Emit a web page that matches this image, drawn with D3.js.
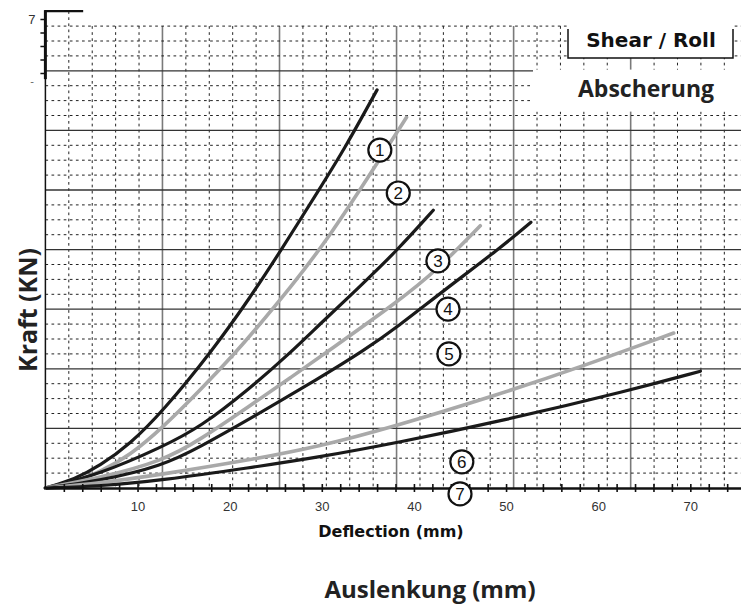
<!DOCTYPE html>
<html lang="en">
<head>
<meta charset="UTF-8">
<title>Shear / Roll</title>
<script src="https://d3js.org/d3.v7.min.js"></script>
<style>
    body { margin: 0; background: #fff; }
    svg { display: block; }
</style>
</head>
<body>
<div id="chart"></div>
<script>
// deflection (mm) and force (kN), one pair of arrays per curve
const c1x = [0, 3.2, 5.9, 9.2, 12.7, 18.2, 22.2, 25.5, 29.8, 32.5, 36.0];
const c1y = [0, 0.15, 0.37, 0.74, 1.28, 2.32, 3.19, 3.97, 5.03, 5.7, 6.68];
const c2x = [0, 3.2, 5.9, 9.2, 12.7, 16.8, 20.9, 22.2, 26.6, 30.9, 35.9, 39.2];
const c2y = [0, 0.10, 0.27, 0.55, 1.01, 1.64, 2.32, 2.55, 3.36, 4.23, 5.42, 6.22];
const c3x = [0, 5.9, 12.7, 16.8, 22.2, 26.6, 29.8, 34.2, 38.2, 42.1];
const c3y = [0, 0.23, 0.69, 1.02, 1.67, 2.27, 2.75, 3.39, 3.99, 4.66];
const c4x = [0, 5.9, 12.7, 16.8, 22.2, 26.6, 30.9, 38.2, 42.6, 47.2];
const c4y = [0, 0.17, 0.45, 0.81, 1.38, 1.85, 2.32, 3.12, 3.67, 4.4];
const c5x = [0, 5.9, 12.7, 16.8, 22.2, 29.8, 34.5, 38.2, 43.2, 49.4, 52.7];
const c5y = [0, 0.12, 0.37, 0.69, 1.16, 1.85, 2.3, 2.7, 3.31, 4.03, 4.46];
const c6x = [0, 5.9, 12.7, 22.2, 29.8, 37.4, 49.4, 57.7, 68.2];
const c6y = [0, 0.08, 0.23, 0.47, 0.70, 1.01, 1.58, 2.01, 2.6];
const c7x = [0, 5.9, 12.7, 22.2, 29.8, 38.2, 49.4, 63.5, 71.1];
const c7y = [0, 0.03, 0.13, 0.34, 0.52, 0.76, 1.12, 1.64, 1.96];
const curveColors = ["#1a1a1a", "#a9a9a9", "#1a1a1a", "#a9a9a9", "#1a1a1a", "#a9a9a9", "#1a1a1a"];

// circled curve numbers
const markNames = ["1", "2", "3", "4", "5", "6", "7"];
const markX = [36.3, 38.3, 42.6, 43.7, 43.8, 45.2, 45.0];
const markY = [5.67, 4.95, 3.81, 3.0, 2.25, 0.44, -0.1];

const xTicks = [0, 10, 20, 30, 40, 50, 60, 70];

const W = 741, H = 606;
const svg = d3.select("#chart").append("svg")
    .attr("width", W)
    .attr("height", H)
    .style("font-family", "'Liberation Sans', Arial, sans-serif");

const x = d3.scaleLinear().domain([0, 75.5]).range([45.4, 741]);
const y = d3.scaleLinear().domain([0, 7.75]).range([488, 26.1]);
// old left axis fragment at the top
const yOld = d3.scaleLinear().domain([6, 7]).range([86.5, 19]);

const gridStep = 2.541;        // mm between dotted verticals
const panelLeft = 533;
const dots = "2.7,3.4";

// grid
const grid = svg.append("g");
d3.range(1, 30).forEach(k => {
    const gxv = x(k * gridStep);
    const solid = k % 5 === 0;
    grid.append("line")
        .attr("x1", gxv).attr("x2", gxv)
        .attr("y1", k === 1 ? y(8) : y(7.75)).attr("y2", y(0))
        .attr("stroke", solid ? "#7a7a7a" : "#222")
        .attr("stroke-width", solid ? 1.6 : 1)
        .attr("stroke-dasharray", solid ? null : dots);
});
d3.range(1, 32).forEach(j => {
    const v = j * 0.25;
    const solid = j % 4 === 0;
    grid.append("line")
        .attr("x1", x(0)).attr("x2", v === 7 ? panelLeft : W)
        .attr("y1", y(v)).attr("y2", y(v))
        .attr("stroke", solid ? "#333" : "#222")
        .attr("stroke-width", solid ? 1.3 : 1)
        .attr("stroke-dasharray", solid ? null : dots);
});

// white panels top right
svg.append("rect")
    .attr("x", panelLeft).attr("y", y(7.02))
    .attr("width", W - panelLeft).attr("height", 42)
    .attr("fill", "#fff");
svg.append("text")
    .attr("x", 646).attr("y", 97)
    .attr("text-anchor", "middle")
    .style("font-family", "'Open Sans', sans-serif")
    .style("font-weight", "bold")
    .style("font-size", "23px")
    .attr("fill", "#222")
    .text("Abscherung");

svg.append("rect")
    .attr("x", 568).attr("y", 22)
    .attr("width", 165).attr("height", 36)
    .attr("fill", "#fff");
svg.append("path")
    .attr("d", "M568,29V58H733V29")
    .attr("fill", "none")
    .attr("stroke", "#111")
    .attr("stroke-width", 1.5);
svg.append("text")
    .attr("x", 651).attr("y", 47)
    .attr("text-anchor", "middle")
    .style("font-family", "'DejaVu Sans', sans-serif")
    .style("font-weight", "bold")
    .style("font-size", "20px")
    .attr("fill", "#111")
    .text("Shear / Roll");

// curves
const line = d3.line()
    .x(d => x(d[0]))
    .y(d => y(d[1]))
    .curve(d3.curveBasis);
const series = [[c1x, c1y], [c2x, c2y], [c3x, c3y], [c4x, c4y], [c5x, c5y], [c6x, c6y], [c7x, c7y]];
series.forEach((s, i) => {
    const pts = s[0].map((v, k) => [v, s[1][k]]);
    svg.append("path")
        .datum(pts)
        .attr("d", line)
        .attr("fill", "none")
        .attr("stroke", curveColors[i])
        .attr("stroke-width", i % 2 ? 3.6 : 3.2)
        .attr("stroke-linecap", "round");
});

// x axis
const clip = svg.append("clipPath").attr("id", "clipzero");
clip.append("rect").attr("x", 44.3).attr("y", 480).attr("width", 20).attr("height", 40);

const xAxis = svg.append("g")
    .attr("transform", `translate(0,${y(0)})`)
    .call(d3.axisBottom(x)
        .tickValues(d3.range(0, 76, 2))
        .tickSize(4)
        .tickSizeOuter(0)
        .tickPadding(10)
        .tickFormat(d => xTicks.includes(d) ? d : ""));
xAxis.select(".domain").attr("stroke", "#111").attr("stroke-width", 2.6);
xAxis.selectAll(".tick line").attr("y1", -4).attr("stroke", "#111").attr("stroke-width", 1.6);
xAxis.selectAll(".tick text")
    .attr("fill", "#333")
    .style("font-size", "13px");
xAxis.selectAll(".tick").filter(d => d === 0).select("text")
    .attr("clip-path", "url(#clipzero)");
xAxis.selectAll(".tick").filter(d => d === 0).select("line").remove();

// left axis
svg.append("line")
    .attr("x1", x(0)).attr("x2", x(0))
    .attr("y1", y(6.88)).attr("y2", y(0))
    .attr("stroke", "#111").attr("stroke-width", 1.5);
svg.append("line")
    .attr("x1", x(0)).attr("x2", x(0))
    .attr("y1", y(8) - 1).attr("y2", y(6.86))
    .attr("stroke", "#111").attr("stroke-width", 3);
svg.append("line")
    .attr("x1", x(0) - 1).attr("x2", x(4.1))
    .attr("y1", y(8)).attr("y2", y(8))
    .attr("stroke", "#111").attr("stroke-width", 2.2);
const oldAxis = svg.append("g")
    .attr("transform", `translate(${x(0)},0)`)
    .call(d3.axisLeft(yOld)
        .tickValues([6.2, 6.4, 6.6, 6.8, 7])
        .tickSize(5)
        .tickPadding(5)
        .tickFormat(d => d === 7 ? "7" : ""));
oldAxis.select(".domain").remove();
oldAxis.selectAll(".tick line").attr("stroke", "#111").attr("stroke-width", 1.5);
oldAxis.selectAll(".tick text").attr("fill", "#333").style("font-size", "13px");
svg.append("text")
    .attr("x", 32).attr("y", yOld(6.08))
    .attr("text-anchor", "middle")
    .attr("dy", "0.35em")
    .attr("fill", "#666")
    .style("font-size", "11px")
    .text("-");

// circled numbers
const marks = svg.append("g");
markNames.forEach((m, i) => {
    const g = marks.append("g").attr("transform", `translate(${x(markX[i])},${y(markY[i])})`);
    g.append("circle")
        .attr("r", 11.5)
        .attr("fill", "#fff")
        .attr("stroke", "#111")
        .attr("stroke-width", 2.2);
    g.append("text")
        .attr("text-anchor", "middle")
        .attr("dy", "0.36em")
        .attr("fill", "#111")
        .style("font-size", "17px")
        .text(m);
});

// axis titles
svg.append("text")
    .attr("x", 391).attr("y", 537)
    .attr("text-anchor", "middle")
    .style("font-family", "'DejaVu Sans', sans-serif")
    .style("font-weight", "bold")
    .style("font-size", "16px")
    .attr("fill", "#111")
    .text("Deflection (mm)");

svg.append("text")
    .attr("x", 430).attr("y", 598)
    .attr("text-anchor", "middle")
    .style("font-family", "'Open Sans', sans-serif")
    .style("font-weight", "bold")
    .style("font-size", "24px")
    .attr("fill", "#222")
    .text("Auslenkung (mm)");

svg.append("text")
    .attr("transform", "translate(37,310) rotate(-90)")
    .attr("text-anchor", "middle")
    .style("font-family", "'Open Sans', sans-serif")
    .style("font-weight", "bold")
    .style("font-size", "25px")
    .attr("fill", "#222")
    .text("Kraft (KN)");

// cut-off remains of the older label
const clipOld = svg.append("clipPath").attr("id", "clipold");
clipOld.append("rect").attr("x", 5).attr("y", 210).attr("width", 8).attr("height", 38);
svg.append("text")
    .attr("transform", "translate(13,229) rotate(-90)")
    .attr("text-anchor", "middle")
    .attr("clip-path", "url(#clipold)")
    .style("font-family", "'Open Sans', sans-serif")
    .style("font-weight", "bold")
    .style("font-size", "15px")
    .attr("fill", "#222")
    .text("Load (KN)");
</script>
</body>
</html>
